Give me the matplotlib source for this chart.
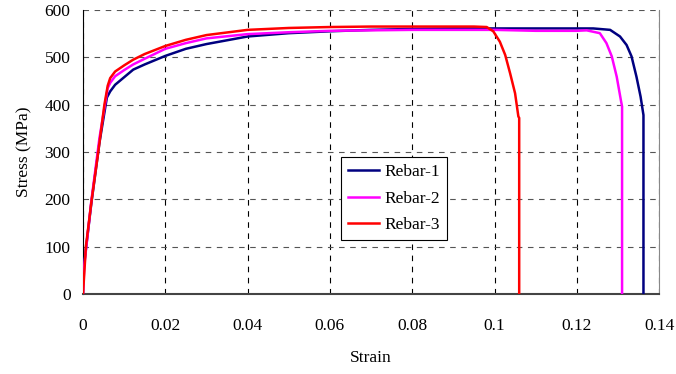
import matplotlib
matplotlib.use('Agg')
import matplotlib.pyplot as plt

# Rebar tensile test curves
strain1 = [0, 0, 0.0005, 0.002, 0.004, 0.0058, 0.0066, 0.0078, 0.01, 0.0122, 0.015, 0.02,
           0.025, 0.03, 0.04, 0.05, 0.06, 0.07, 0.08, 0.09, 0.1, 0.11, 0.12, 0.124,
           0.1281, 0.1305, 0.1321, 0.1333, 0.1345, 0.1355, 0.136, 0.1362, 0.1362]
stress1 = [0, 45, 80, 190, 320, 415, 428, 442, 458, 474, 485, 503,
           518, 528, 544, 551, 555, 558, 560, 561, 561, 561, 561, 561,
           558, 544, 526, 502, 459, 417, 389, 378, 0]

strain2 = [0, 0.0003, 0.002, 0.004, 0.006, 0.0066, 0.0078, 0.01, 0.0122, 0.015, 0.02,
           0.025, 0.03, 0.04, 0.05, 0.06, 0.08, 0.1, 0.11, 0.12, 0.1224, 0.1256,
           0.1272, 0.1285, 0.1297, 0.1307, 0.131, 0.131]
stress2 = [0, 60, 195, 330, 435, 446, 460, 473, 485, 497, 518,
           530, 540, 549, 553, 556, 558, 558, 556, 556, 557, 551,
           530, 502, 459, 410, 396, 0]

strain3 = [0, 0.0007, 0.0021, 0.0037, 0.0052, 0.006, 0.0066, 0.0078, 0.01, 0.0122, 0.015,
           0.02, 0.025, 0.03, 0.04, 0.05, 0.06, 0.07, 0.08, 0.09, 0.095, 0.0981,
           0.0997, 0.1013, 0.1026, 0.1038, 0.105, 0.1058, 0.106, 0.106]
stress3 = [0, 100, 199, 300, 400, 440, 456, 470, 483, 495, 507,
           524, 537, 547, 558, 562, 564, 565, 565, 565, 565, 564,
           555, 533, 505, 466, 424, 375, 372, 0]

labels = ['Rebar-1', 'Rebar-2', 'Rebar-3']
xticks = [0, 0.02, 0.04, 0.06, 0.08, 0.1, 0.12, 0.14]
xticklabels = ['0', '0.02', '0.04', '0.06', '0.08', '0.1', '0.12', '0.14']
yticks = [0, 100, 200, 300, 400, 500, 600]

plt.rcParams['font.family'] = ['Liberation Serif', 'DejaVu Serif']
plt.rcParams['font.size'] = 12

fig = plt.figure(figsize=(6.76, 3.74), dpi=100)
ax = fig.add_axes([0.1228, 0.2139, 0.8522, 0.7594])

ax.plot(strain1, stress1, color='#000080', lw=1.8, label=labels[0], zorder=3)
ax.plot(strain2, stress2, color='#ff00ff', lw=1.8, label=labels[1], zorder=3)
ax.plot(strain3, stress3, color='#ff0000', lw=1.8, label=labels[2], zorder=4)

ax.set_xlim(0, 0.14)
ax.set_ylim(0, 600)
ax.set_xticks(xticks)
ax.set_xticklabels(xticklabels)
ax.set_yticks(yticks)
ax.tick_params(length=0, labelsize=12.5)
ax.tick_params(axis='x', pad=17)
ax.tick_params(axis='y', pad=9)

ax.grid(True, axis='x', color='black', ls=(0, (5, 5)), lw=0.8)
ax.grid(True, axis='y', color='#555555', ls=(0, (5, 5)), lw=0.8)

ax.spines['top'].set_visible(False)
ax.spines['left'].set_color('black')
ax.spines['bottom'].set_color('#444444')
ax.spines['bottom'].set_linewidth(1.5)
ax.spines['right'].set_color('#888888')

ax.set_xlabel('Strain', fontsize=12.5, labelpad=12)
ax.set_ylabel('Stress (MPa)', fontsize=12.5, labelpad=9)

leg = ax.legend(loc='upper left', bbox_to_anchor=(0.448, 0.482), fancybox=False,
                framealpha=1, edgecolor='black', handlelength=1.8, handletextpad=0.3,
                labelspacing=0.6, borderpad=0.4, borderaxespad=0, fontsize=12.5)
leg.get_frame().set_linewidth(0.8)

fig.savefig('out.png', dpi=100)
